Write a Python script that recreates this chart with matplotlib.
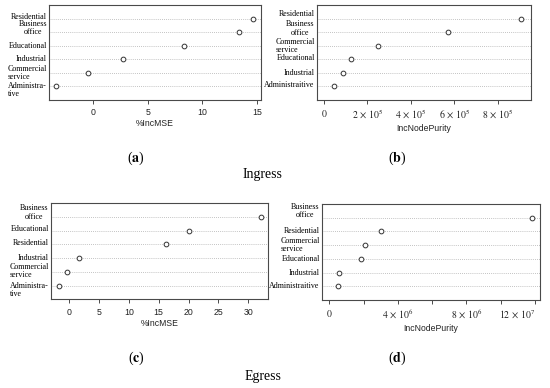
import matplotlib
matplotlib.use("Agg")
import matplotlib.pyplot as plt
from matplotlib.transforms import offset_copy, blended_transform_factory

# variable importance values, listed top row first
labels_a = ["Residential", "Business\noffice", "Educational", "Industrial",
            "Commercial\nservice", "Administra-\ntive"]
values_a = [14.67, 13.4, 8.35, 2.78, -0.49, -3.38]

labels_b = ["Residential", "Business\noffice", "Commercial\nservice", "Educational",
            "Industrial", "Administraitive"]
values_b = [9.08e5, 5.73e5, 2.50e5, 1.24e5, 0.86e5, 0.45e5]

labels_c = ["Business\noffice", "Educational", "Residential", "Industrial",
            "Commercial\nservice", "Administra-\ntive"]
values_c = [32.1, 20.07, 16.3, 1.67, -0.39, -1.72]

labels_d = ["Business\noffice", "Residential", "Commercial\nservice", "Educational",
            "Industrial", "Administraitive"]
values_d = [11.8e6, 3.01e6, 2.08e6, 1.85e6, 0.58e6, 0.49e6]

ticks_a = [0, 5, 10, 15]
ticks_b = [0, 2e5, 4e5, 6e5, 8e5]
ticklabels_b = ["$0$", r"$2\,\times\,10^{5}$", r"$4\,\times\,10^{5}$",
                r"$6\,\times\,10^{5}$", r"$8\,\times\,10^{5}$"]
ticks_c = [0, 5, 10, 15, 20, 25, 30]
ticks_d = [0, 2e6, 4e6, 6e6, 8e6, 10e6, 12e6]
ticklabels_d = ["$0$", "", r"$4\,\times\,10^{6}$", "", r"$8\,\times\,10^{6}$", "",
                r"$12\,\times\,10^{7}$"]

plt.rcParams["mathtext.fontset"] = "stix"
SERIF = "Liberation Serif"
SANS = "Liberation Sans"
FRAME = "#4a4a4a"

fig = plt.figure(figsize=(5.5, 3.88), dpi=100)


def dotpanel(rect, xlabel, labels, values, xlim, ticks, ticklabels, dy, malign):
    ax = fig.add_axes(rect)
    n = len(values)
    rows = [n - i for i in range(n)]
    for r in rows:
        ax.axhline(r, color="#b0b0b0", lw=0.6, ls=(0, (1, 1.5)), zorder=1)
    ax.plot(values, rows, ls="none", marker="o", ms=3.4, mfc="white",
            mec="#333333", mew=0.7, zorder=3)
    ax.set_xlim(*xlim)
    ax.set_ylim(0, n + 1)
    ax.set_yticks([])
    ax.set_xticks(ticks)
    if ticklabels is not None:
        ax.set_xticklabels(ticklabels, fontsize=7, color="#222222")
    else:
        ax.set_xticklabels([str(t) for t in ticks], fontsize=6.3, family=SANS,
                           color="#222222")
    ax.tick_params(axis="x", length=3, width=0.7, color=FRAME, pad=3)
    for s in ax.spines.values():
        s.set_color(FRAME)
        s.set_linewidth(0.8)
    ax.set_xlabel(xlabel, fontsize=6.2, family=SANS, color="#222222", labelpad=1.5)
    base = blended_transform_factory(ax.transAxes, ax.transData)
    for lab, r, off, ma in zip(labels, rows, dy, malign):
        tr = offset_copy(base, fig=fig, x=-2, y=off, units="dots")
        ax.text(0, r, lab, transform=tr, ha="right", va="center", ma=ma,
                family=SERIF, fontsize=5.8, linespacing=1.05, color="black",
                clip_on=False)
    return ax


dotpanel((0.0891, 0.7423, 0.3855, 0.2448), "%IncMSE", labels_a, values_a,
         (-4.03, 15.37), ticks_a, None,
         [2, 4, 0, 0, 0, -3.5], ["left", "center", "left", "left", "left", "left"])
dotpanel((0.5758, 0.7423, 0.3896, 0.2448), "IncNodePurity", labels_b, values_b,
         (-0.336e5, 9.54e5), ticks_b, ticklabels_b,
         [5, 3.7, 0, 1, 0, 1.5], ["left", "center", "left", "left", "left", "left"])
dotpanel((0.0922, 0.2286, 0.3956, 0.2474), "%IncMSE", labels_c, values_c,
         (-3.06, 33.33), ticks_c, None,
         [4.5, 1.4, 1, 0.6, 1, -4.6], ["center", "left", "left", "left", "left", "left"])
ax_d = dotpanel((0.5849, 0.2268, 0.3969, 0.2474), "IncNodePurity", labels_d, values_d,
                (-0.44e6, 12.29e6), ticks_d, ticklabels_d,
                [7, 0.7, 0, 0, 0, 0.7], ["center", "left", "left", "left", "left", "left"])
# last label sits left of its tick so it stays inside the figure
ax_d.get_xticklabels()[-1].set_horizontalalignment("right")

# panel captions
for x, y, letter in [(136, 158, "a"), (396.7, 158, "b"), (136, 358.3, "c"), (396.7, 358.3, "d")]:
    fig.text(x / 550, 1 - y / 388, "($\\mathbf{%s}$)" % letter, ha="center", va="center",
             family=SERIF, fontsize=10)
fig.text(262.7 / 550, 1 - 175 / 388, "Ingress", ha="center", va="center",
         family=SERIF, fontsize=10)
fig.text(262.7 / 550, 1 - 376.7 / 388, "Egress", ha="center", va="center",
         family=SERIF, fontsize=10)

fig.savefig("out.png", dpi=100)
